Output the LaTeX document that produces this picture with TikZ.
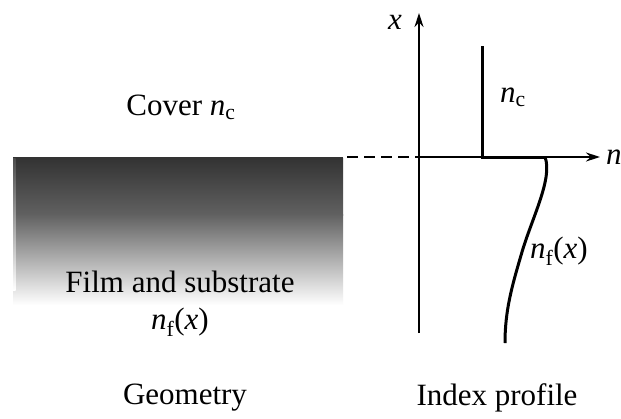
\documentclass[tikz,border=0pt]{standalone}
\usepackage{fontspec}
\setmainfont{Liberation Serif}
\usetikzlibrary{arrows.meta}
\newcommand{\nsym}[1]{\textit{n}\textsubscript{#1}}
\begin{document}
\begin{tikzpicture}[x=1pt,y=-1pt,
  lbl/.style={font=\fontsize{31}{34}\selectfont, inner sep=0pt},
  axis/.style={line width=1.6pt, -{Stealth[length=14pt,width=9pt]}},
  prof/.style={line width=3pt},
  dashline/.style={line width=1.6pt, dash pattern=on 11pt off 6pt}]
\useasboundingbox[fill=white] (0,0) rectangle (621,418);
% film and substrate block
\shade[top color=black!80, bottom color=black!62] (13,158) rectangle (343,215);
\shade[top color=black!62, bottom color=white] (13,214.5) rectangle (343,305);
\draw[line width=1.5pt, black!80] (13,158) -- (343,158);
\shade[top color=black!70, bottom color=white] (13,158) rectangle (15.5,290);
% coordinates
\coordinate (blockR) at (347,157);
\coordinate (O) at (419,157);
\coordinate (xbot) at (419,333);
\coordinate (xtip) at (419,13);
\coordinate (ntip) at (600,157);
\coordinate (ctop) at (482,46);
\coordinate (cbot) at (482,157);
\coordinate (fstart) at (545,157);
\coordinate (fend) at (505,343);
% dashed continuation
\draw[dashline] (blockR) -- (O);
% axes
\draw[axis] (xbot) -- (xtip);
\draw[axis] (O) -- (ntip);
% index profile
\draw[prof] (ctop) -- (cbot) -- (fstart);
\draw[prof] (fstart) .. controls (553,178) and (532,218) .. (522,252)
  .. controls (512,286) and (505,310) .. (fend);
% labels
\node[lbl] (xl) at (395,22) {\textit{x}};
\node[lbl, anchor=west] (nl) at (606,157) {\textit{n}};
\node[lbl] (ncl) at (513,97) {\nsym{c}};
\node[lbl] (nfl) at (559,251) {\nsym{f}(\textit{x})};
\node[lbl] (cover) at (181,107) {Cover \nsym{c}};
\node[lbl] (film) at (180,282) {Film and substrate};
\node[lbl] (nfx) at (180,322) {\nsym{f}(\textit{x})};
\node[lbl] (geo) at (185,398) {Geometry};
\node[lbl] (idx) at (497,398) {Index profile};
\end{tikzpicture}
\end{document}
